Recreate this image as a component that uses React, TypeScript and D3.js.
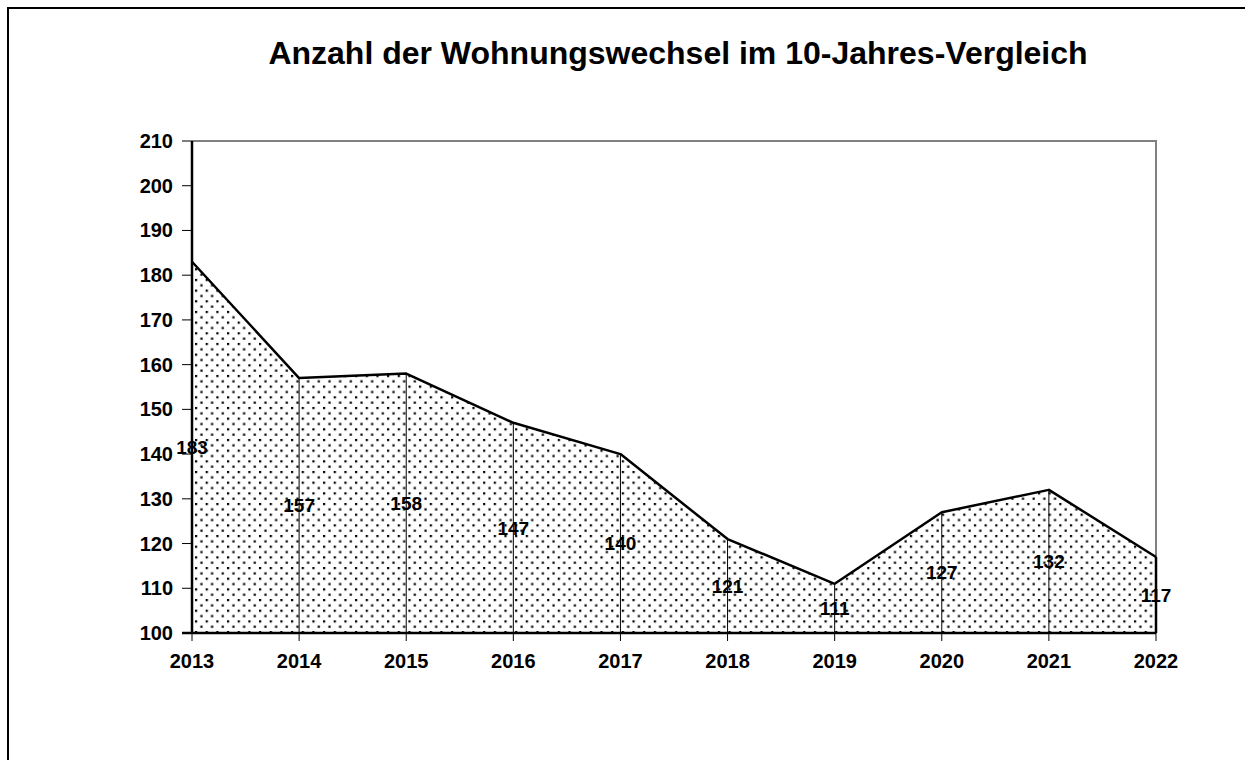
import React from "react";
import * as d3 from "d3";

const years = ["2013", "2014", "2015", "2016", "2017", "2018", "2019", "2020", "2021", "2022"];
const values = [183, 157, 158, 147, 140, 121, 111, 127, 132, 117];
const yTicks = [100, 110, 120, 130, 140, 150, 160, 170, 180, 190, 200, 210];
const title = "Anzahl der Wohnungswechsel im 10-Jahres-Vergleich";

const W = 1245;
const H = 760;
const plot = { left: 192, right: 1156, top: 141, bottom: 633 };
const font = "'Liberation Sans', Arial, sans-serif";

export default function App() {
  const x = d3
    .scalePoint<string>()
    .domain(years)
    .range([plot.left, plot.right]);
  const y = d3.scaleLinear().domain([100, 210]).range([plot.bottom, plot.top]);

  const data = years.map((yr, i) => ({ yr, v: values[i] }));
  const area = d3
    .area<{ yr: string; v: number }>()
    .x((d) => x(d.yr)!)
    .y0(y(100))
    .y1((d) => y(d.v));
  const line = d3
    .line<{ yr: string; v: number }>()
    .x((d) => x(d.yr)!)
    .y((d) => y(d.v));

  const tile = 10.67;

  return (
    <svg
      width={W}
      height={H}
      style={{ position: "absolute", left: 0, top: 0, display: "block" }}
    >
      <defs>
        <pattern
          id="dots"
          patternUnits="userSpaceOnUse"
          width={tile}
          height={tile}
          x={plot.left + 3}
          y={plot.bottom - 2}
        >
          <rect width={tile} height={tile} fill="#fff" />
          <rect x={0} y={0} width={2.2} height={2.2} fill="#000" />
          <rect x={tile / 2} y={tile / 2} width={2.2} height={2.2} fill="#000" />
        </pattern>
      </defs>
      <rect x={0} y={0} width={W} height={H} fill="#fff" />
      {/* outer border */}
      <path d={`M8,${H} V8 H${W}`} fill="none" stroke="#000" strokeWidth={2} />

      <text
        x={678}
        y={64}
        textAnchor="middle"
        fontFamily={font}
        fontWeight="bold"
        fontSize={32}
        fill="#000"
      >
        {title}
      </text>

      {/* plot area frame (top/right gray) */}
      <path
        d={`M${plot.left},${plot.top} H${plot.right} V${plot.bottom}`}
        fill="none"
        stroke="#808080"
        strokeWidth={2}
      />

      <path d={area(data)!} fill="url(#dots)" stroke="none" />

      {/* drop lines */}
      {data.map((d) => (
        <line
          key={"drop" + d.yr}
          x1={x(d.yr)}
          x2={x(d.yr)}
          y1={y(d.v)}
          y2={y(100)}
          stroke="#000"
          strokeWidth={1}
        />
      ))}

      <path d={line(data)!} fill="none" stroke="#000" strokeWidth={2.5} strokeLinejoin="round" />

      {/* axes */}
      <line x1={plot.left} x2={plot.left} y1={plot.top} y2={plot.bottom} stroke="#000" strokeWidth={2.5} />
      <line x1={plot.left - 10} x2={plot.right} y1={plot.bottom} y2={plot.bottom} stroke="#000" strokeWidth={2.5} />
      <line
        x1={plot.right}
        x2={plot.right}
        y1={y(values[values.length - 1])}
        y2={plot.bottom}
        stroke="#000"
        strokeWidth={2.5}
      />

      {yTicks.map((t) => (
        <g key={"yt" + t}>
          <line x1={plot.left - 10} x2={plot.left} y1={y(t)} y2={y(t)} stroke="#000" strokeWidth={1} />
          <text
            x={plot.left - 19}
            y={y(t)}
            dy="0.35em"
            textAnchor="end"
            fontFamily={font}
            fontWeight="bold"
            fontSize={20}
            fill="#000"
          >
            {t}
          </text>
        </g>
      ))}

      {years.map((yr) => (
        <g key={"xt" + yr}>
          <line x1={x(yr)} x2={x(yr)} y1={plot.bottom} y2={plot.bottom + 8} stroke="#000" strokeWidth={1} />
          <text
            x={x(yr)}
            y={668}
            textAnchor="middle"
            fontFamily={font}
            fontWeight="bold"
            fontSize={20}
            fill="#000"
          >
            {yr}
          </text>
        </g>
      ))}

      {data.map((d) => (
        <text
          key={"lab" + d.yr}
          x={x(d.yr)}
          y={y((d.v + 100) / 2)}
          dy="0.35em"
          textAnchor="middle"
          fontFamily={font}
          fontWeight="bold"
          fontSize={19}
          fill="#000"
        >
          {d.v}
        </text>
      ))}
    </svg>
  );
}
